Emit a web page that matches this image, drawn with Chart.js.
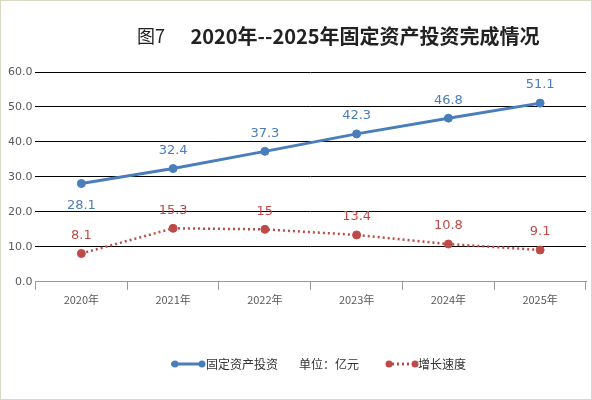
<!DOCTYPE html><html><head><meta charset="utf-8">
<script src="https://cdn.jsdelivr.net/npm/chart.js@4"></script>
<style>html,body{margin:0;padding:0;background:#fff}#w{width:590px;height:398px;border:1px solid #d8d8c4;position:relative}</style>
</head><body><div id="w"><canvas id="c" width="590" height="398"></canvas></div>
<script>
const categories=["2020年","2021年","2022年","2023年","2024年","2025年"];
const investment=[28.1,32.4,37.3,42.3,46.8,51.1];
const growth=[8.1,15.3,15,13.4,10.8,9.1];
const blue="#4a7ebb",red="#be4b48";
const F="'Noto Sans CJK SC','DejaVu Sans',sans-serif";
const D="'DejaVu Sans','Noto Sans CJK SC',sans-serif";
const deco={id:"deco",afterDraw(ch){const c=ch.ctx;c.save();
c.fillStyle="#222";c.textAlign="center";c.textBaseline="middle";
c.font="18px "+F;c.fillText("图7",150,35);c.font="bold 20px "+F;c.fillText("2020年--2025年固定资产投资完成情况",364,35);
c.font="13px "+D;
[0,1].forEach(di=>{const m=ch.getDatasetMeta(di);const d=ch.data.datasets[di].data;
m.data.forEach((p,i)=>{c.fillStyle=di?red:blue;let y=(di==0&&i==0)?p.y+22:p.y-18;
c.fillText(String(d[i]),p.x,y);});});
c.font="12px "+F;c.fillStyle="#333";c.textAlign="left";const ly=363;
c.strokeStyle=blue;c.lineWidth=3;c.beginPath();c.moveTo(170,ly);c.lineTo(204,ly);c.stroke();
c.fillStyle=blue;[174,201].forEach(x=>{c.beginPath();c.arc(x,ly,3.5,0,7);c.fill();});
c.fillStyle="#333";c.fillText("固定资产投资",205,ly);c.fillText("单位：亿元",298,ly);
c.strokeStyle=red;c.setLineDash([2,3]);c.beginPath();c.moveTo(386,ly);c.lineTo(414,ly);c.stroke();c.setLineDash([]);
c.fillStyle=red;[388,414].forEach(x=>{c.beginPath();c.arc(x,ly,3.5,0,7);c.fill();});
c.fillStyle="#333";c.fillText("增长速度",417,ly);
c.restore();}};
new Chart(document.getElementById("c"),{type:"line",data:{labels:categories,datasets:[
{data:investment,borderColor:blue,backgroundColor:blue,borderWidth:3,pointRadius:4,pointBorderWidth:1,pointBackgroundColor:blue},
{data:growth,borderColor:red,backgroundColor:red,borderWidth:2.5,borderDash:[2,3],pointRadius:4,pointBorderWidth:1,pointBackgroundColor:red}]},
options:{responsive:false,animation:false,layout:{padding:{top:71,right:3,bottom:90,left:4}},
plugins:{legend:{display:false},tooltip:{enabled:false}},
scales:{y:{min:0,max:60,ticks:{stepSize:10,callback:v=>v.toFixed(1),color:"#595959",font:{size:11,family:D}},grid:{color:"#000",drawTicks:false},border:{display:false}},
x:{offset:true,ticks:{color:"#595959",font:{size:11,family:F}},grid:{offset:true,drawOnChartArea:false,color:"#999",tickLength:8},border:{color:"#999"}}}},
plugins:[deco]});
</script></body></html>
